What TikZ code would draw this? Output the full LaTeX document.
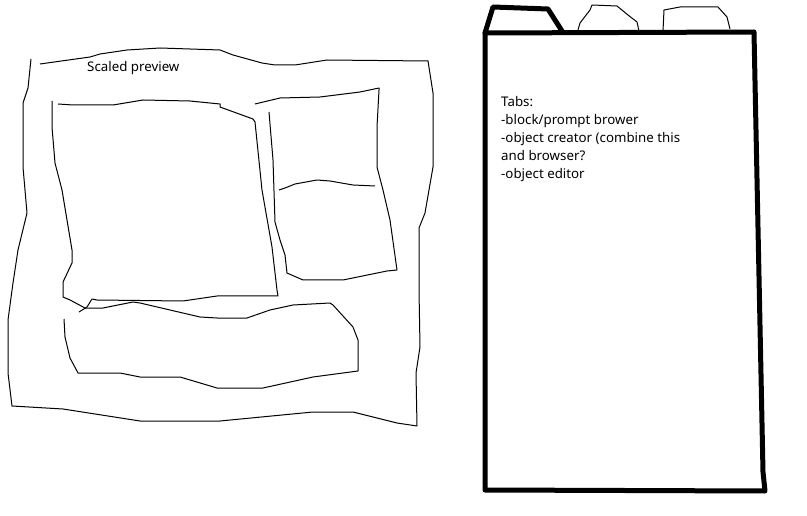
\documentclass[tikz,border=0pt]{standalone}
\usepackage{fontspec}
\setmainfont{Noto Sans}
\usetikzlibrary{positioning}

\begin{document}
\begin{tikzpicture}[
  x=1pt, y=-1pt,
  font=\fontsize{13.3}{18}\selectfont,
  sketch/.style={draw=black, line width=1pt, line join=round},
  frame/.style={draw=black, line width=5pt, line join=round, line cap=round},
  note/.style={anchor=north west, align=left, inner sep=0pt},
]
\useasboundingbox (0,0) rectangle (807,516);

% outer preview frame
\draw[sketch] (31,59) -- (28,88) -- (23,103) -- (23,167) -- (27,213) -- (18,250)
  -- (13,283) -- (8,320) -- (8,373) -- (12,406) -- (63,409) -- (140,421)
  -- (220,421) -- (313,412) -- (353,412) -- (397,423) -- (417,426)
  -- (416,373) -- (420,347) -- (419,290) -- (419,228) -- (425,213)
  -- (433,167) -- (433,93) -- (428,61) -- (327,60) -- (295,65) -- (275,65)
  -- (262,63) -- (233,55) -- (220,50) -- (160,48) -- (127,50) -- (100,54)
  -- (90,57) -- (40,64);

% big view
\draw[sketch] (58,104) -- (73,105) -- (113,105) -- (143,100) -- (190,101)
  -- (220,104) -- (220,107) -- (253,119) -- (255,122) -- (262,190)
  -- (272,247) -- (277,290) -- (278,296) -- (217,296) -- (183,301)
  -- (97,300) -- (92,299) -- (87,307) -- (79,312);
\draw[sketch] (52,101) -- (52,127) -- (55,163) -- (62,190) -- (72,250)
  -- (72,263) -- (63,282) -- (63,297) -- (70,300) -- (85,308);

% side views
\draw[sketch] (255,104) -- (280,98) -- (320,97) -- (360,92) -- (379,88)
  -- (379,90) -- (377,127) -- (377,167) -- (383,190) -- (390,220)
  -- (397,270) -- (387,271) -- (343,280) -- (303,280) -- (287,273)
  -- (285,255) -- (280,240) -- (275,222) -- (273,160) -- (269,112);
\draw[sketch] (279,190) -- (285,188) -- (295,184) -- (317,180) -- (330,181)
  -- (353,185) -- (375,186);

% bottom strip
\draw[sketch] (85,308) -- (103,308) -- (133,302) -- (140,303) -- (200,317)
  -- (217,318) -- (247,318) -- (270,310) -- (293,305) -- (330,303)
  -- (333,305) -- (353,327) -- (358,340) -- (358,371) -- (313,377)
  -- (263,388) -- (217,388) -- (180,377) -- (140,377) -- (120,373)
  -- (78,373) -- (70,358) -- (65,337) -- (64,319);

\node[note] (preview) at (87,61) {Scaled preview};

% tab panel
\draw[frame] (485,33) -- (754,32) -- (763,472) -- (765,491) -- (485,490) -- cycle;
\draw[frame] (485,33) -- (493,7) -- (548,9) -- (562,31);
\draw[sketch] (578,30) -- (580,23) -- (590,10) -- (592,5) -- (617,6)
  -- (628,15) -- (637,22) -- (639,31);
\draw[sketch] (663,31) -- (664,10) -- (680,7) -- (718,7) -- (727,17) -- (730,29);

\node[note] (tabs) at (501,96) {Tabs:\\-block/prompt brower\\
  -object creator (combine this\\and browser?\\-object editor};
\end{tikzpicture}
\end{document}
